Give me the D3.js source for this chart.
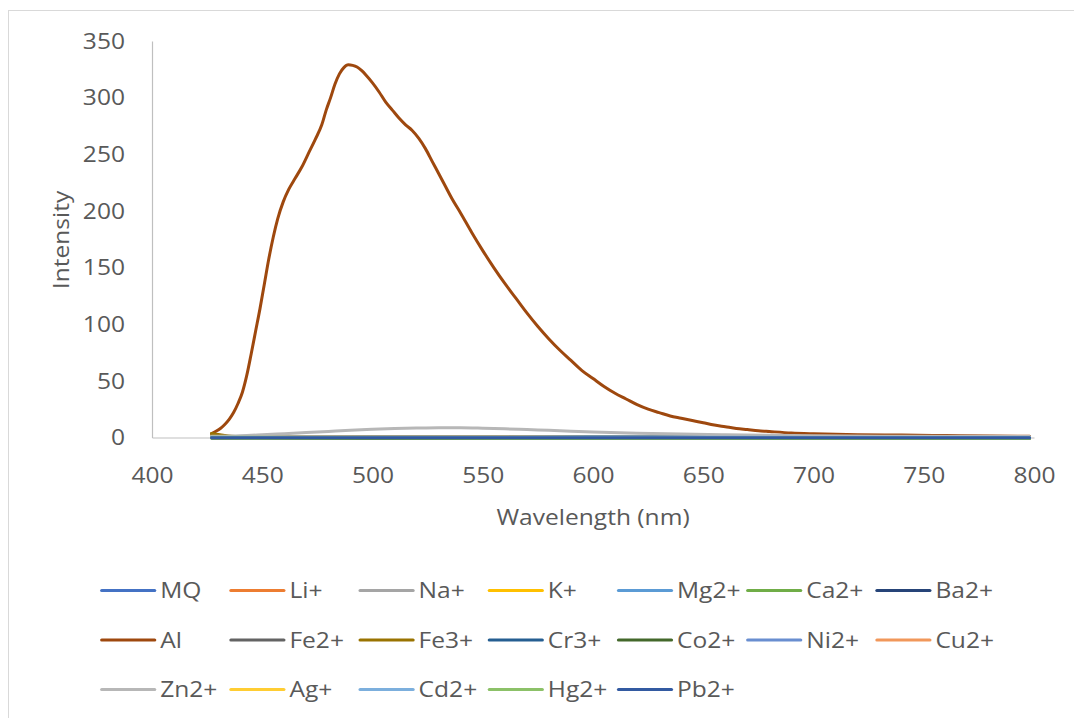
<!DOCTYPE html>
<html>
<head>
<meta charset="utf-8">
<script src="https://cdn.jsdelivr.net/npm/d3@7"></script>
<style>
  html, body { margin: 0; padding: 0; background: #fff; }
  svg { display: block; }
  text { font-family: "Open Sans", "Noto Sans", sans-serif; fill: #595959; }
</style>
</head>
<body>
<svg id="chart" width="1074" height="718"></svg>
<script>
// Axis ticks
const wavelengthTicks = [400, 450, 500, 550, 600, 650, 700, 750, 800];
const intensityTicks = [0, 50, 100, 150, 200, 250, 300, 350];

// Legend order (also drawing order)
const seriesNames = ["MQ", "Li+", "Na+", "K+", "Mg2+", "Ca2+", "Ba2+",
                     "Al", "Fe2+", "Fe3+", "Cr3+", "Co2+", "Ni2+", "Cu2+",
                     "Zn2+", "Ag+", "Cd2+", "Hg2+", "Pb2+"];
const seriesColors = ["#4472C4", "#ED7D31", "#A5A5A5", "#FFC000", "#5B9BD5", "#70AD47", "#264478",
                      "#9E480E", "#636363", "#997300", "#255E91", "#43682B", "#698ED0", "#F1975A",
                      "#B7B7B7", "#FFCD33", "#7CAFDD", "#8CC168", "#335AA1"];

// Emission spectra: [wavelength (nm), intensity]
const mqSpectrum  = [[427, 0.6], [500, 0.4], [600, 0.3], [700, 0.2], [798, 0.1]];
const liSpectrum  = [[427, 0.8], [500, 0.5], [600, 0.3], [700, 0.2], [798, 0.1]];
const naSpectrum  = [[427, 0.7], [500, 0.6], [600, 0.4], [700, 0.2], [798, 0.1]];
const kSpectrum   = [[427, 0.5], [500, 0.3], [600, 0.2], [700, 0.1], [798, 0.0]];
const mgSpectrum  = [[427, 0.6], [500, 0.4], [600, 0.3], [700, 0.2], [798, 0.1]];
const caSpectrum  = [[427, 0.5], [500, 0.3], [600, 0.2], [700, 0.1], [798, 0.0]];
const baSpectrum  = [[427, 0.4], [500, 0.3], [600, 0.2], [700, 0.1], [798, 0.0]];
const alSpectrum  = [
  [427, 3.5], [429, 5.5], [431, 8], [433, 11.5], [435, 16], [437, 22], [439, 30], [441, 40],
  [443, 55], [445, 74], [447, 94], [449, 114], [451, 136], [453, 158], [455, 177], [457, 193],
  [459.5, 208], [462, 219], [465, 229], [468, 239], [471, 251], [474, 263], [477, 276], [479, 289],
  [481, 300], [483, 312], [485, 321], [487, 326.5], [489, 329], [491, 328.5], [493, 327], [495, 324],
  [497, 320], [500, 313], [503, 305], [506, 296], [509, 289], [512, 282], [515, 276], [518, 271],
  [521, 264], [524, 255], [527, 244], [530, 233], [533, 222], [536, 211], [540, 198], [545, 181],
  [550, 165], [555, 150], [560, 136], [565, 123], [570, 110], [575, 98], [580, 87], [585, 77],
  [590, 68], [595, 59], [600, 52], [605, 45], [610, 39], [615, 34], [620, 29], [625, 25],
  [630, 22], [635, 19], [640, 17], [645, 15], [650, 13], [655, 11], [660, 9.5], [665, 8],
  [670, 7], [675, 6], [680, 5.3], [690, 4], [700, 3.3], [710, 2.8], [720, 2.4], [740, 2.1],
  [760, 1.7], [780, 1.3], [798, 1]
];
const fe2Spectrum = [[427, 0.7], [500, 0.4], [600, 0.3], [700, 0.2], [798, 0.1]];
const fe3Spectrum = [[427, 3.5], [430, 2.6], [433, 1.8], [436, 1.1], [440, 0.5], [446, 0.1], [500, -0.2], [600, -0.3], [700, -0.3], [798, -0.3]];
const crSpectrum  = [[427, 0.3], [500, 0.1], [600, 0.0], [700, 0.0], [798, 0.0]];
const coSpectrum  = [[427, -0.6], [500, -0.8], [600, -0.9], [700, -0.9], [798, -0.9]];
const niSpectrum  = [[427, 0.5], [500, 0.3], [600, 0.2], [700, 0.1], [798, 0.0]];
const cuSpectrum  = [[427, 0.4], [500, 0.2], [600, 0.1], [700, 0.1], [798, 0.0]];
const znSpectrum  = [
  [427, 1], [440, 1.5], [450, 2.4], [460, 3.4], [470, 4.4], [480, 5.4], [490, 6.4], [500, 7.2],
  [510, 7.9], [520, 8.4], [530, 8.7], [540, 8.6], [550, 8.2], [560, 7.7], [570, 7.0], [580, 6.3],
  [590, 5.6], [600, 4.9], [620, 3.8], [640, 3.0], [660, 2.4], [680, 1.9], [700, 1.5], [740, 1.1], [798, 0.8]
];
const agSpectrum  = [[427, 0.4], [500, 0.2], [600, 0.1], [700, 0.1], [798, 0.0]];
const cdSpectrum  = [[427, 0.5], [500, 0.3], [600, 0.2], [700, 0.1], [798, 0.0]];
const hgSpectrum  = [[427, -0.3], [500, -0.5], [600, -0.6], [700, -0.6], [798, -0.6]];
const pbSpectrum  = [[427, -0.2], [500, -0.3], [600, -0.3], [700, -0.3], [798, -0.3]];

const seriesData = [mqSpectrum, liSpectrum, naSpectrum, kSpectrum, mgSpectrum, caSpectrum, baSpectrum,
                    alSpectrum, fe2Spectrum, fe3Spectrum, crSpectrum, coSpectrum, niSpectrum, cuSpectrum,
                    znSpectrum, agSpectrum, cdSpectrum, hgSpectrum, pbSpectrum];

const svg = d3.select("#chart");
const TEXT_STRETCH = 1.17;   // widened lettering
const FONT_SIZE = 21;

// Outer chart frame
svg.append("rect")
  .attr("x", 8.5).attr("y", 10.5)
  .attr("width", 1100).attr("height", 800)
  .attr("fill", "none").attr("stroke", "#D9D9D9").attr("stroke-width", 1);

const x = d3.scaleLinear().domain([400, 800]).range([152, 1034]);
const y = d3.scaleLinear().domain([0, 350]).range([437.5, 41]);

function stretchText(sel, dx, dy) {
  sel.attr("x", 0).attr("y", 0).attr("dy", null)
     .attr("dominant-baseline", "central")
     .attr("transform", `translate(${dx},${dy}) scale(${TEXT_STRETCH},1)`);
}

// X axis
const xAxisG = svg.append("g")
  .attr("transform", `translate(0,${y(0)})`)
  .call(d3.axisBottom(x).tickValues(wavelengthTicks).tickSize(0).tickSizeOuter(0).tickPadding(0));
xAxisG.select(".domain").attr("stroke", "#BFBFBF").attr("stroke-width", 1.2);
xAxisG.selectAll("text")
  .attr("font-size", FONT_SIZE).attr("text-anchor", "middle")
  .call(stretchText, 0, 38);

// Y axis
const yAxisG = svg.append("g")
  .attr("transform", `translate(${x(400)},0)`)
  .call(d3.axisLeft(y).tickValues(intensityTicks).tickSize(0).tickSizeOuter(0).tickPadding(0));
yAxisG.select(".domain").attr("stroke", "#BFBFBF").attr("stroke-width", 1.2);
yAxisG.selectAll("text")
  .attr("font-size", FONT_SIZE).attr("text-anchor", "end")
  .call(stretchText, -27, -0.5);

// Axis titles
svg.append("text")
  .attr("font-size", FONT_SIZE).attr("text-anchor", "middle")
  .attr("dominant-baseline", "central")
  .attr("transform", `translate(593,517.5) scale(${TEXT_STRETCH},1)`)
  .text("Wavelength (nm)");
svg.append("text")
  .attr("font-size", FONT_SIZE).attr("text-anchor", "middle")
  .attr("dominant-baseline", "central")
  .attr("transform", `translate(61,240) rotate(-90) scale(${TEXT_STRETCH},1)`)
  .text("Intensity");

// Spectra
const line = d3.line()
  .x(d => x(d[0]))
  .y(d => y(d[1]))
  .curve(d3.curveMonotoneX);

svg.append("g").selectAll("path")
  .data(seriesData)
  .join("path")
  .attr("d", line)
  .attr("fill", "none")
  .attr("stroke", (d, i) => seriesColors[i])
  .attr("stroke-width", 3)
  .attr("stroke-linejoin", "round")
  .attr("stroke-linecap", "round");

// Legend: 7 columns, 3 rows
const legendX0 = 101.7, legendColW = 129.2, legendY0 = 590.5, legendRowH = 49.5;
const legend = svg.append("g").selectAll("g")
  .data(seriesNames)
  .join("g")
  .attr("transform", (d, i) => `translate(${legendX0 + (i % 7) * legendColW},${legendY0 + Math.floor(i / 7) * legendRowH})`);
legend.append("line")
  .attr("x1", 0).attr("x2", 53).attr("y1", 0).attr("y2", 0)
  .attr("stroke", (d, i) => seriesColors[i])
  .attr("stroke-width", 3.2)
  .attr("stroke-linecap", "round");
legend.append("text")
  .attr("font-size", FONT_SIZE)
  .attr("dominant-baseline", "central")
  .attr("transform", `translate(58.5,0) scale(${TEXT_STRETCH},1)`)
  .text(d => d);
</script>
</body>
</html>
